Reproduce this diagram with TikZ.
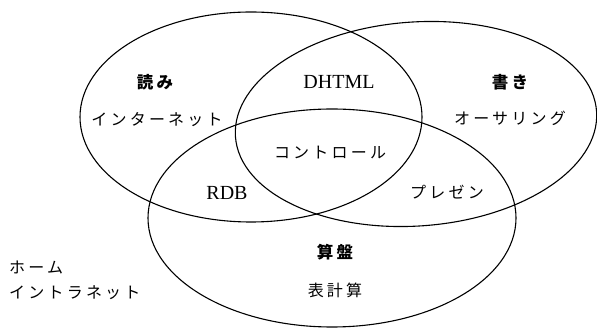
\documentclass[tikz,border=0pt]{standalone}
\usepackage{fontspec}
\setmainfont{Liberation Serif}
\newfontfamily\jp[LetterSpace=20]{Noto Sans CJK JP}
\begin{document}
\begin{tikzpicture}[x=1pt,y=-1pt,
  venn/.style={draw=black,line width=1.1pt},
  lat/.style={font=\fontsize{20}{22}\selectfont,inner sep=0pt},
  jt/.style={font=\jp\fontsize{16}{18}\selectfont,inner sep=0pt},
  jb/.style={font=\jp\bfseries\fontsize{16.5}{18}\selectfont,inner sep=0pt}]
\useasboundingbox (0,0) rectangle (597,328);
% ellipses
\draw[venn] (251,117) ellipse [x radius=171, y radius=105];
\draw[venn,rotate around={4:(416,124)}] (416,124) ellipse [x radius=181, y radius=102];
\draw[venn] (332,218) ellipse [x radius=184, y radius=109];
% labels
\node[jb] (yomi) at (155,82) {読み};
\node[jt] (inet) at (157,120) {インターネット};
\node[lat] (dhtml) at (339,82) {DHTML};
\node[jb] (kaki) at (510,82) {書き};
\node[jt] (auth) at (510,118) {オーサリング};
\node[jt] (ctrl) at (330,153) {コントロール};
\node[lat] (rdb) at (227,193) {RDB};
\node[jt] (pres) at (447,192) {プレゼン};
\node[jb] (soro) at (335,252) {算盤};
\node[jt] (hyo) at (335,290) {表計算};
\node[jt,anchor=west] (home) at (9,268) {ホーム};
\node[jt,anchor=west] (intra) at (9,293) {イントラネット};
\end{tikzpicture}
\end{document}
